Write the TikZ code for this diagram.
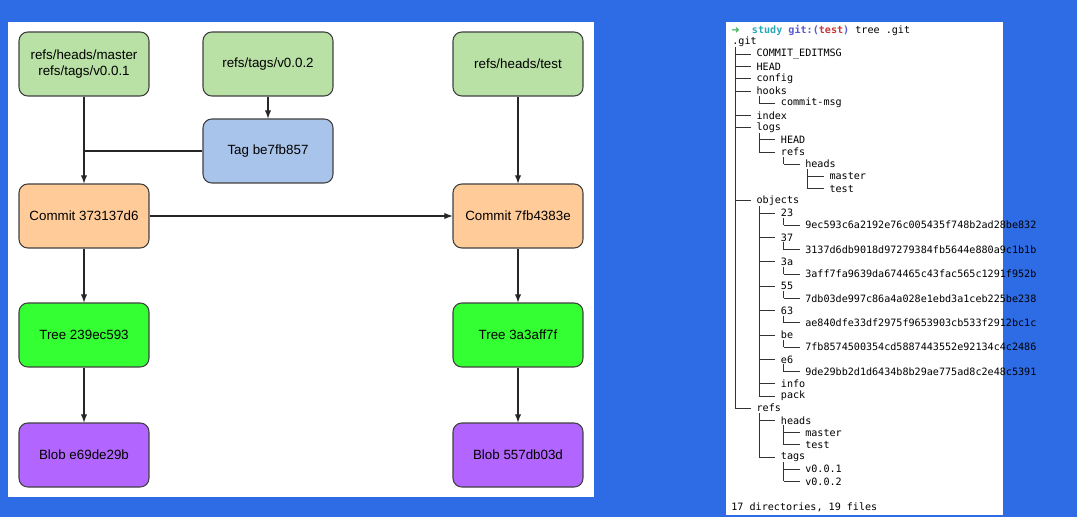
\documentclass[tikz,border=0pt]{standalone}
\usepackage{fontspec}
\setmainfont{Liberation Sans}
\newfontfamily\monof{DejaVu Sans Mono}
\newfontfamily\arrf{DejaVu Sans}
\begin{document}
\begin{tikzpicture}[x=0.02cm,y=-0.02cm,
  box/.style={draw=black!75,line width=0.6pt,rounded corners=5pt,minimum width=2.6cm,minimum height=1.28cm,align=center,font=\fontsize{7.6}{9.5}\selectfont},
  arr/.style={-latex,line width=0.6pt,draw=black!85},
  tl/.style={line width=0.5pt,draw=black!80},
  tt/.style={anchor=west,inner sep=0pt,font=\monof\fontsize{5.75}{7}\selectfont}]
\definecolor{bg}{HTML}{2E6CE6}
\definecolor{gref}{HTML}{B9E0A5}
\definecolor{btag}{HTML}{A9C4EB}
\definecolor{ocom}{HTML}{FFCC99}
\definecolor{gtree}{HTML}{33FF33}
\definecolor{pblob}{HTML}{B266FF}
\fill[bg] (0,0) rectangle (1077,517);
\useasboundingbox (0,0) rectangle (1077,517);
\fill[white] (8,22) rectangle (594,497);
\fill[white] (726,22) rectangle (1003,515);
% left diagram
\node[box,fill=gref] (rm) at (84,64) {refs/heads/master\\refs/tags/v0.0.1};
\node[box,fill=gref] (rv) at (268,64) {refs/tags/v0.0.2};
\node[box,fill=gref] (rt) at (518,64) {refs/heads/test};
\node[box,fill=btag] (tag) at (268,151) {Tag be7fb857};
\node[box,fill=ocom] (c1) at (84,216) {Commit 373137d6};
\node[box,fill=ocom] (c2) at (518,216) {Commit 7fb4383e};
\node[box,fill=gtree] (t1) at (84,335) {Tree 239ec593};
\node[box,fill=gtree] (t2) at (518,335) {Tree 3a3aff7f};
\node[box,fill=pblob] (b1) at (84,455) {Blob e69de29b};
\node[box,fill=pblob] (b2) at (518,455) {Blob 557db03d};
\coordinate (j) at (84,151);
\draw[arr] (rm) -- (c1);
\draw[line width=0.6pt,draw=black!85] (tag.west) -- (j);
\draw[arr] (rv) -- (tag);
\draw[arr] (rt) -- (c2);
\draw[arr] (c1) -- (c2);
\draw[arr] (c1) -- (t1);
\draw[arr] (t1) -- (b1);
\draw[arr] (c2) -- (t2);
\draw[arr] (t2) -- (b2);
% tree listing
\node[tt] (hdr) at (731,30) {{\arrf\color[HTML]{3DB35A}➜}~~\textbf{\color[HTML]{2AA7B8}study} \textbf{\color[HTML]{5858D0}git:(\color[HTML]{C8383A}test\color[HTML]{5858D0})} tree .git};
\foreach \r/\l/\t in {1/0/.git,2/1/COMMIT\_EDITMSG,3/1/HEAD,4/1/config,5/1/hooks,6/2/commit-msg,7/1/index,8/1/logs,9/2/HEAD,10/2/refs,11/3/heads,12/4/master,13/4/test,14/1/objects,15/2/23,16/3/9ec593c6a2192e76c005435f748b2ad28be832,17/2/37,18/3/3137d6db9018d97279384fb5644e880a9c1b1b,19/2/3a,20/3/3aff7fa9639da674465c43fac565c1291f952b,21/2/55,22/3/7db03de997c86a4a028e1ebd3a1ceb225be238,23/2/63,24/3/ae840dfe33df2975f9653903cb533f2912bc1c,25/2/be,26/3/7fb8574500354cd5887443552e92134c4c2486,27/2/e6,28/3/9de29bb2d1d6434b8b29ae775ad8c2e48c5391,29/2/info,30/2/pack,31/1/refs,32/2/heads,33/3/master,34/3/test,35/2/tags,36/3/v0.0.1,37/3/v0.0.2}{
  \node[tt] (ln\r) at ({732+24.3*\l},{30+12.2*\r}) {\t};
  \ifnum\l>0
    \draw[tl] ({735+24.3*(\l-1)},{30+12.2*\r}) -- ({751+24.3*(\l-1)},{30+12.2*\r});
  \fi
}
\foreach \c/\a/\b in {1/1/31,2/5/6,2/8/10,3/10/11,4/11/13,2/14/30,3/15/16,3/17/18,3/19/20,3/21/22,3/23/24,3/25/26,3/27/28,2/31/35,3/32/34,3/35/37}{
  \draw[tl] ({735+24.3*(\c-1)},{30+12.2*\a+5}) -- ({735+24.3*(\c-1)},{30+12.2*\b});
}
\node[tt] (foot) at (731,507) {17 directories, 19 files};
\end{tikzpicture}
\end{document}
